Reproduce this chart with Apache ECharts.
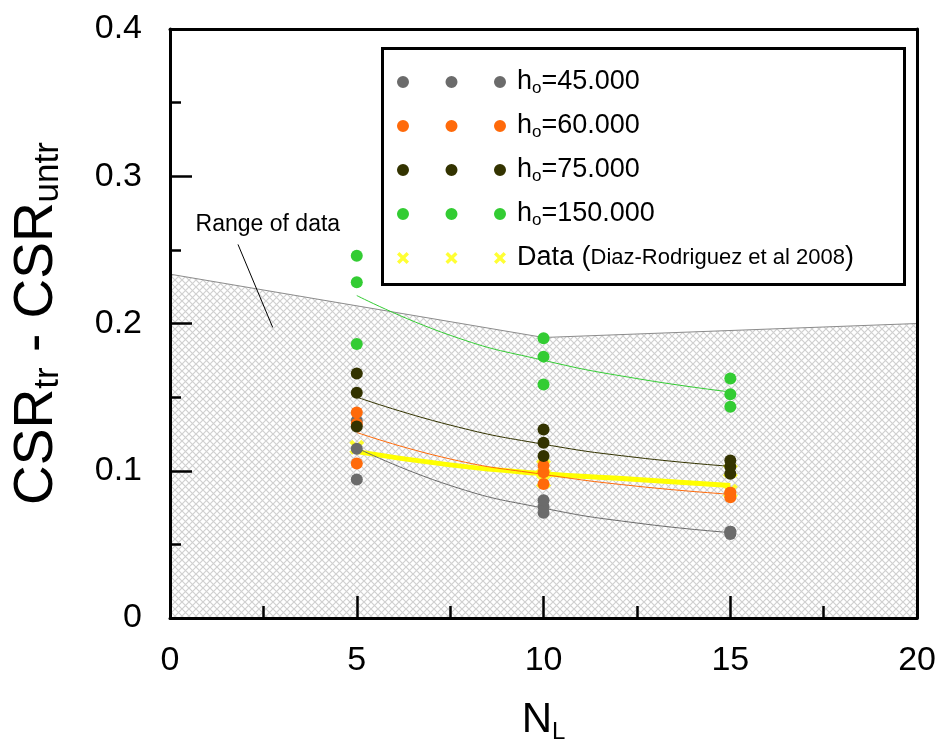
<!DOCTYPE html>
<html><head><meta charset="utf-8">
<script src="https://cdn.jsdelivr.net/npm/echarts@6/dist/echarts.min.js"></script>
<style>html,body{margin:0;padding:0;background:#fff}#c{width:939px;height:755px}</style>
</head><body><div id="c"></div>
<script>
// ---- data ----
const NL = [5, 5, 5, 10, 10, 10, 15, 15, 15];
const h45 = [0.094, 0.115, 0.134, 0.0714, 0.0755, 0.080, 0.057, 0.0585, 0.0585];
const h60 = [0.105, 0.132, 0.1395, 0.091, 0.099, 0.1035, 0.082, 0.085, 0.085];
const h75 = [0.130, 0.153, 0.166, 0.110, 0.119, 0.128, 0.098, 0.1027, 0.107];
const h150 = [0.186, 0.228, 0.246, 0.1585, 0.1775, 0.190, 0.1435, 0.152, 0.1626];
const dataNL = [5, 10, 10, 15, 15];
const dataVal = [0.116, 0.103, 0.093, 0.100, 0.086];
const fitNL = [5, 7.5, 10, 12.5, 15];
const fit45 = [0.1155, 0.090, 0.0746, 0.0645, 0.058];
const fit60 = [0.126, 0.108, 0.0975, 0.0895, 0.084];
const fit75 = [0.150, 0.131, 0.118, 0.109, 0.103];
const fit150 = [0.219, 0.192, 0.175, 0.1626, 0.1535];
const fitData = [0.113, 0.104, 0.098, 0.094, 0.090];
const rangeNL = [0, 10, 20];
const rangeTop = [0.2335, 0.1905, 0.2];
const xTicks = [0, 5, 10, 15, 20];
const yTicks = [0, 0.1, 0.2, 0.3, 0.4];

const FONT = 'Liberation Sans, Arial, sans-serif';
const pair = (xs, ys) => xs.map((x, i) => [x, ys[i]]);

// crosshatch pattern
const P = 7;
const pc = document.createElement('canvas'); pc.width = P; pc.height = P;
const ctx = pc.getContext('2d');
ctx.fillStyle = '#ffffff'; ctx.fillRect(0, 0, P, P);
ctx.strokeStyle = '#d0d0d0'; ctx.lineWidth = 1.2;
ctx.beginPath();
ctx.moveTo(-1, -1); ctx.lineTo(P + 1, P + 1);
ctx.moveTo(P + 1, -1); ctx.lineTo(-1, P + 1);
ctx.stroke();

const cols = { g: '#6b6b6b', o: '#ff6a0a', d: '#333300', gr: '#33cc33', y: '#ffff00' };
// X marker outline in a 12x12 box
const xPts = [[0,2.4],[2.4,0],[6,3.6],[9.6,0],[12,2.4],[8.4,6],[12,9.6],[9.6,12],[6,8.4],[2.4,12],[0,9.6],[3.6,6]];
const xPath = 'path://M' + xPts.map(q => q[0] + ',' + q[1]).join('L') + 'Z';
const circ3 = 'path://' + [0, 48.5, 97].map(o =>
  'M' + o + ',6A6,6 0 1,1 ' + (o + 12) + ',6A6,6 0 1,1 ' + o + ',6Z').join(' ');
const xs3 = 'path://' + [0, 48.5, 97].map(o =>
  'M' + xPts.map(q => (q[0] + o) + ',' + q[1]).join('L') + 'Z').join(' ');

const names = ['h45', 'h60', 'h75', 'h150', 'Data'];
const labels = {
  h45: '{sp|}{b|h}{sub|o}{b|=45.000}',
  h60: '{sp|}{b|h}{sub|o}{b|=60.000}',
  h75: '{sp|}{b|h}{sub|o}{b|=75.000}',
  h150: '{sp|}{b|h}{sub|o}{b|=150.000}',
  Data: '{sp|}{b|Data (}{s|Diaz-Rodriguez et al 2008}{b|)}'
};

function fitLine(ys, c, w) {
  return { type: 'line', data: pair(fitNL, ys), smooth: true, symbol: 'none', silent: true,
    lineStyle: { color: c, width: w }, z: 3 };
}
function dots(name, ys, c) {
  return { name: name, type: 'scatter', data: pair(NL, ys), symbol: 'circle', symbolSize: 12,
    itemStyle: { color: c, opacity: 1 }, z: 5 };
}

const chart = echarts.init(document.getElementById('c'), null, { renderer: 'canvas' });
const axisCommon = {
  axisLine: { show: true, onZero: false, lineStyle: { color: '#000', width: 3 } },
  splitLine: { show: false }, z: 10
};
chart.setOption({
  animation: false,
  backgroundColor: '#fff',
  grid: { left: 170, right: 21, top: 29, bottom: 137, show: false },
  xAxis: [
    Object.assign({}, axisCommon, {
      type: 'value', min: 0, max: 20, interval: 5, position: 'bottom',
      axisTick: { show: true, inside: true, length: 22, lineStyle: { color: '#000', width: 2.5 } },
      minorTick: { show: true, splitNumber: 2, length: 12, lineStyle: { color: '#000', width: 2.5 } },
      axisLabel: { fontSize: 34, color: '#000', fontFamily: FONT, margin: 26,
        formatter: v => xTicks.includes(v) ? String(v) : '' },
      name: '{b|N}{sub|L}', nameLocation: 'middle', nameGap: 78,
      nameTextStyle: { fontFamily: FONT, color: '#000',
        rich: { b: { fontSize: 42, lineHeight: 48, fontFamily: FONT }, sub: { fontSize: 24, lineHeight: 24, padding: [18, 0, 0, 0], verticalAlign: 'bottom', fontFamily: FONT } } }
    }),
    Object.assign({}, axisCommon, {
      type: 'value', min: 0, max: 20, position: 'top',
      axisTick: { show: false }, axisLabel: { show: false }
    })
  ],
  yAxis: [
    Object.assign({}, axisCommon, {
      type: 'value', min: 0, max: 0.4, interval: 0.1, position: 'left',
      axisTick: { show: true, inside: true, length: 22, lineStyle: { color: '#000', width: 2.5 } },
      minorTick: { show: true, splitNumber: 2, length: 11, lineStyle: { color: '#000', width: 2.5 } },
      axisLabel: { fontSize: 34, color: '#000', fontFamily: FONT, margin: 28,
        formatter: v => { const t = yTicks.find(k => Math.abs(k - v) < 1e-9); return t === undefined ? '' : (t === 0 ? '0' : t.toFixed(1)); } },
      name: '{b|CSR}{sub|tr}{b| - CSR}{sub|untr}', nameLocation: 'middle', nameGap: 104, nameRotate: 90,
      nameTextStyle: { fontFamily: FONT, color: '#000',
        rich: { b: { fontSize: 55, lineHeight: 58, fontFamily: FONT }, sub: { fontSize: 35, lineHeight: 35, padding: [20, 0, 0, 0], verticalAlign: 'bottom', fontFamily: FONT } } }
    }),
    Object.assign({}, axisCommon, {
      type: 'value', min: 0, max: 0.4, position: 'right',
      axisTick: { show: false }, axisLabel: { show: false }
    })
  ],
  legend: {
    orient: 'vertical', left: 392, top: 62, itemGap: 14, itemWidth: 109, itemHeight: 12,
    selectedMode: false,
    data: names.map(n => ({ name: n, icon: n === 'Data' ? xs3 : circ3 })),
    formatter: n => labels[n],
    textStyle: { fontFamily: FONT, color: '#000', fontSize: 27, lineHeight: 30,
      rich: {
        sp: { width: 6 },
        b: { fontSize: 27, lineHeight: 30, fontFamily: FONT, color: '#000' },
        sub: { fontSize: 17, lineHeight: 17, padding: [12, 0, 0, 0], verticalAlign: 'bottom', fontFamily: FONT, color: '#000' },
        s: { fontSize: 22, lineHeight: 30, fontFamily: FONT, color: '#000' }
      } }
  },
  series: [
    { type: 'line', data: pair(rangeNL, rangeTop), symbol: 'none', silent: true,
      lineStyle: { color: '#8c8c8c', width: 1 },
      areaStyle: { color: { image: pc, repeat: 'repeat' }, opacity: 1 }, z: 1 },
    { name: 'Data', type: 'scatter', data: pair(dataNL, dataVal), symbol: xPath, symbolSize: 15,
      itemStyle: { color: cols.y }, z: 2 },
    Object.assign(fitLine(fitData, cols.y, 5), { z: 2 }),
    fitLine(fit45, cols.g, 1),
    fitLine(fit60, cols.o, 1),
    fitLine(fit75, cols.d, 1),
    fitLine(fit150, cols.gr, 1),
    dots('h45', h45, cols.g),
    dots('h60', h60, cols.o),
    dots('h75', h75, cols.d),
    dots('h150', h150, cols.gr)
  ]
});

// annotation + legend frame
const a1 = chart.convertToPixel({ gridIndex: 0 }, [2.62, 0.2673]);
const l1 = chart.convertToPixel({ gridIndex: 0 }, [1.82, 0.2537]);
const l2 = chart.convertToPixel({ gridIndex: 0 }, [2.75, 0.1973]);
chart.setOption({
  graphic: [
    { type: 'rect', left: 381, top: 47, shape: { width: 522, height: 236 }, z: 20,
      style: { fill: 'rgba(0,0,0,0)', stroke: '#000', lineWidth: 3 } },
    { type: 'text', x: a1[0], y: a1[1], z: 20,
      style: { text: 'Range of data', font: '23px ' + FONT, fill: '#000', align: 'center', verticalAlign: 'middle' } },
    { type: 'line', shape: { x1: l1[0], y1: l1[1], x2: l2[0], y2: l2[1] }, z: 20,
      style: { stroke: '#000', lineWidth: 1 } }
  ]
});
</script></body></html>
